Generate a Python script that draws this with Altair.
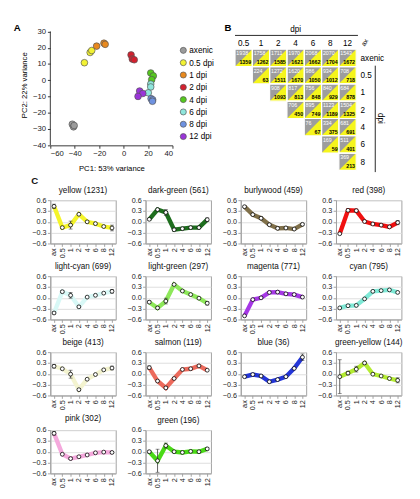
import altair as alt
import pandas as pd

FONT = "Liberation Sans"

# ---------------- Panel A: PCA ----------------
PCA_GROUPS = ["axenic", "0.5 dpi", "1 dpi", "2 dpi", "4 dpi", "6 dpi", "8 dpi", "12 dpi"]
PCA_COLORS = ["#9b9b9b", "#f2f233", "#e8891e", "#d3202e", "#55c81e", "#8fe6dc", "#6f92e0", "#9a35d8"]
pc1_axenic = [-42.0, -41.0, -40.5]
pc2_axenic = [-27.0, -28.6, -27.8]
pc1_05 = [-32.1, -27.4, -26.1]
pc2_05 = [10.8, 17.1, 18.3]
pc1_1 = [-22.1, -16.1, -15.1]
pc2_1 = [21.0, 22.8, 22.1]
pc1_2 = [6.1, 7.1, 8.7]
pc2_2 = [15.6, 13.1, 12.6]
pc1_4 = [22.2, 24.3, 23.0]
pc2_4 = [4.5, 2.7, 0.4]
pc1_6 = [22.2, 22.2, 20.2]
pc2_6 = [-2.3, -4.1, -7.7]
pc1_8 = [22.5, 23.8, 23.6]
pc2_8 = [-11.3, -12.0, -12.9]
pc1_12 = [13.1, 15.7, 11.8]
pc2_12 = [-6.6, -8.1, -9.9]
A_X_TICKS = [-60, -40, -20, 0, 20, 40]
A_Y_TICKS = [-40, -30, -20, -10, 0, 10, 20, 30]

pc1_all = [pc1_axenic, pc1_05, pc1_1, pc1_2, pc1_4, pc1_6, pc1_8, pc1_12]
pc2_all = [pc2_axenic, pc2_05, pc2_1, pc2_2, pc2_4, pc2_6, pc2_8, pc2_12]
rows = []
for g, xs, ys in zip(PCA_GROUPS, pc1_all, pc2_all):
    for a, b in zip(xs, ys):
        rows.append({"grp": g, "pc1": a, "pc2": b})
pca_df = pd.DataFrame(rows)

# ---------------- Panel B: DEG matrix ----------------
B_COLS = ["0.5", "1", "2", "4", "6", "8", "12"]
B_ROWS = ["axenic", "0.5", "1", "2", "4", "6", "8"]
B_GRAY = [
    [1938, 1758, 1711, 1970, 2068, 2070, 1543],
    [None, 224, 1272, 1620, 986, 934, 708],
    [None, None, 908, 817, 756, 840, 684],
    [None, None, None, 706, 895, 1123, 1504],
    [None, None, None, None, 76, 334, 681],
    [None, None, None, None, None, 169, 511],
    [None, None, None, None, None, None, 369],
]
B_YELLOW = [
    [1359, 1262, 1585, 1621, 1662, 1704, 1672],
    [None, 63, 1511, 1670, 1050, 1012, 718],
    [None, None, 1093, 813, 848, 929, 878],
    [None, None, None, 450, 749, 1189, 1325],
    [None, None, None, None, 67, 375, 691],
    [None, None, None, None, None, 59, 401],
    [None, None, None, None, None, None, 213],
]
cells = []
for ri in range(len(B_ROWS)):
    for ci in range(len(B_COLS)):
        if B_GRAY[ri][ci] is not None:
            cells.append({"cid": f"{ri}-{ci}", "ri": ri, "ci": ci,
                          "g": B_GRAY[ri][ci], "yv": B_YELLOW[ri][ci]})
cells_df = pd.DataFrame(cells)

# ---------------- Panel C: module profiles ----------------
TIMES = ["ax", "0.5", "1", "2", "4", "6", "8", "12"]
MODULES = ["yellow", "dark-green", "burlywood", "red", "light-cyan", "light-green", "magenta",
           "cyan", "beige", "salmon", "blue", "green-yellow", "pink", "green"]
COUNTS = [1231, 561, 459, 398, 699, 297, 771, 795, 413, 119, 36, 144, 302, 196]
MOD_COLORS = ["#f4f42a", "#1e6e1e", "#80704a", "#f01010", "#d8f8f6", "#8ee85a", "#a638e6",
              "#7fe9d6", "#f3f3cf", "#ec6a5c", "#2436d8", "#b4ec32", "#f4a8dc", "#4ada16"]
yellow = [0.43, -0.16, -0.09, 0.21, 0.00, -0.05, -0.13, -0.17]
yellow_err = [0.06, 0, 0.11, 0, 0, 0, 0, 0.08]
dark_green = [0.07, 0.34, 0.26, -0.22, -0.19, -0.16, -0.16, 0.06]
dark_green_err = [0.02, 0, 0.08, 0.02, 0, 0, 0, 0.05]
burlywood = [0.42, 0.20, 0.10, -0.08, -0.18, -0.17, -0.20, -0.07]
burlywood_err = [0.02, 0, 0.04, 0, 0, 0, 0, 0.02]
red = [-0.33, 0.32, 0.31, 0.01, -0.06, -0.09, -0.14, -0.02]
red_err = [0.02, 0.03, 0.04, 0, 0, 0, 0, 0.06]
light_cyan = [-0.42, 0.17, 0.07, -0.25, 0.02, 0.07, 0.13, 0.18]
light_cyan_err = [0.03, 0.03, 0.08, 0.02, 0, 0, 0, 0.05]
light_green = [-0.12, -0.28, -0.09, 0.37, 0.19, 0.09, -0.01, -0.15]
light_green_err = [0.04, 0.03, 0.08, 0, 0, 0, 0, 0.05]
magenta = [-0.50, -0.05, 0.00, 0.15, 0.16, 0.11, 0.09, 0.02]
magenta_err = [0, 0, 0, 0, 0, 0, 0, 0]
cyan = [-0.28, -0.22, -0.21, -0.03, 0.18, 0.20, 0.22, 0.15]
cyan_err = [0, 0, 0, 0, 0, 0, 0, 0]
beige = [0.21, 0.14, -0.01, -0.44, -0.15, -0.02, 0.11, 0.16]
beige_err = [0.05, 0, 0.11, 0.03, 0, 0, 0, 0.05]
salmon = [0.17, -0.20, -0.39, -0.13, 0.12, 0.14, 0.22, 0.10]
salmon_err = [0.05, 0, 0.03, 0, 0, 0, 0, 0]
blue = [-0.08, -0.02, -0.06, -0.22, -0.16, -0.08, 0.15, 0.46]
blue_err = [0.02, 0, 0.04, 0, 0, 0, 0, 0.09]
green_yellow = [-0.08, 0.02, 0.13, 0.30, -0.01, -0.06, -0.13, -0.18]
green_yellow_err = [0.47, 0.05, 0.08, 0.03, 0, 0, 0, 0.07]
pink = [0.51, -0.07, -0.19, -0.14, -0.09, -0.03, -0.01, -0.02]
pink_err = [0.05, 0, 0.03, 0, 0, 0, 0, 0.03]
green = [0.00, -0.25, 0.17, 0.00, -0.02, 0.01, 0.00, 0.08]
green_err = [0.04, 0.32, 0.07, 0.02, 0, 0, 0.03, 0.03]
C_Y_TICKS = [-0.6, -0.3, 0.0, 0.3, 0.6]

MOD_VALUES = [yellow, dark_green, burlywood, red, light_cyan, light_green, magenta,
              cyan, beige, salmon, blue, green_yellow, pink, green]
MOD_ERRS = [yellow_err, dark_green_err, burlywood_err, red_err, light_cyan_err, light_green_err,
            magenta_err, cyan_err, beige_err, salmon_err, blue_err, green_yellow_err, pink_err, green_err]

prof_rows = []
for m, vals, errs in zip(MODULES, MOD_VALUES, MOD_ERRS):
    for t, v, e in zip(TIMES, vals, errs):
        lo = v - e if e > 0 else None
        hi = v + e if e > 0 else None
        prof_rows.append({"module": m, "t": t, "v": v, "lo": lo, "hi": hi})
prof_df = pd.DataFrame(prof_rows)

AX_COL = "#333333"

# ---------- build A ----------
a_xscale = alt.Scale(domain=[-60, 40], nice=False, zero=False)
a_yscale = alt.Scale(domain=[-40, 34.5], nice=False, zero=False)
a_xaxis = alt.Axis(values=A_X_TICKS, title="PC1: 53% variance", grid=False, domainColor=AX_COL,
                   tickColor=AX_COL, tickSize=3, labelFontSize=8, titleFontSize=8,
                   titleFontWeight="normal", titlePadding=7, labelColor="#222")
a_yaxis = alt.Axis(values=A_Y_TICKS, title="PC2: 22% variance", grid=False, domain=False,
                   tickColor=AX_COL, tickSize=3, labelFontSize=8, titleFontSize=8,
                   titleFontWeight="normal", titlePadding=4, labelColor="#222")

a_pts = alt.Chart(pca_df).mark_point(filled=True, size=48, stroke="#555", strokeWidth=0.7,
                                     opacity=1).encode(
    x=alt.X("pc1:Q", scale=a_xscale, axis=a_xaxis),
    y=alt.Y("pc2:Q", scale=a_yscale, axis=a_yaxis),
    color=alt.Color("grp:N", scale=alt.Scale(domain=PCA_GROUPS, range=PCA_COLORS),
                    legend=alt.Legend(title=None, orient="none", legendX=134, legendY=23,
                                      symbolType="circle", symbolSize=40,
                                      symbolStrokeColor="#555", symbolStrokeWidth=0.7,
                                      labelFontSize=8.5, rowPadding=2.8, labelOffset=2,
                                      padding=0)),
)
# left axis line, from the lowest to the highest tick (through the y scale)
a_line = alt.Chart(pd.DataFrame({"lo": [min(A_Y_TICKS)], "hi": [max(A_Y_TICKS)]})).mark_rule(
    color=AX_COL, strokeWidth=1).encode(
    x=alt.value(0), y=alt.Y("lo:Q", scale=a_yscale, axis=a_yaxis), y2="hi:Q")
a_letter = alt.Chart(pd.DataFrame({"k": [0]})).mark_text(
    text="A", fontSize=10, fontWeight="bold", align="left", baseline="middle").encode(
    x=alt.value(-38), y=alt.value(4))
chartA = alt.layer(a_pts, a_line, a_letter).properties(width=127, height=126)

# ---------- build B ----------
bxs = alt.Scale(domain=[0, 7], nice=False, zero=False)
bys = alt.Scale(domain=[-1.45, 7], nice=False, zero=False, reverse=True)


def bX(f):
    return alt.X(f, scale=bxs, axis=None)


def bY(f, **kw):
    return alt.Y(f, scale=bys, axis=None, **kw)


GRAY_B = "#9d9d9d"
YEL_B = "#f5f51c"
cbase = alt.Chart(cells_df).transform_calculate(
    x0="datum.ci", x1="datum.ci + 1", y0="datum.ri", y1="datum.ri + 1",
    xc="datum.ci + 0.5", yc="datum.ri + 0.5")
b_rect = cbase.mark_rect(fill=GRAY_B, strokeWidth=0).encode(
    x=bX("x0:Q"), x2="x1:Q", y=bY("y0:Q"), y2="y1:Q")
b_tri = alt.Chart(cells_df).transform_calculate(
    xs="[datum.ci, datum.ci + 1]", ys="[datum.ri + 1, datum.ri]", yb="datum.ri + 1"
).transform_flatten(["xs", "ys"]).mark_area(color=YEL_B, orient="vertical", opacity=1).encode(
    x=bX("xs:Q"), y=bY("ys:Q", stack=False), y2="yb:Q", detail="cid:N")
b_grid = cbase.mark_rect(fillOpacity=0, stroke="white", strokeWidth=1.2).encode(
    x=bX("x0:Q"), x2="x1:Q", y=bY("y0:Q"), y2="y1:Q")
b_gtxt = cbase.mark_text(fontSize=5.5, color="white", align="left", baseline="middle",
                         dx=-7.6, dy=-4.6).encode(x=bX("xc:Q"), y=bY("yc:Q"), text="g:Q")
b_ytxt = cbase.mark_text(fontSize=5.5, color="black", fontWeight="bold", align="right",
                         baseline="middle", dx=7.8, dy=4.8).encode(x=bX("xc:Q"), y=bY("yc:Q"),
                                                                   text="yv:Q")
cols_df = pd.DataFrame({"lab": B_COLS, "ci": list(range(len(B_COLS)))})
rows_df = pd.DataFrame({"lab": B_ROWS, "ri": list(range(len(B_ROWS)))})
b_collab = alt.Chart(cols_df).transform_calculate(xc="datum.ci + 0.5", yc="-0.36").mark_text(
    fontSize=8.5, baseline="middle").encode(x=bX("xc:Q"), y=bY("yc:Q"), text="lab:N")
b_rowlab = alt.Chart(rows_df).transform_calculate(xc="7.25", yc="datum.ri + 0.5").mark_text(
    fontSize=8.5, baseline="middle", align="left").encode(x=bX("xc:Q"), y=bY("yc:Q"),
                                                          text="lab:N")
one = pd.DataFrame({"k": [0]})
b_dpi_top = alt.Chart(one).transform_calculate(xc="3.5", yc="-1.15").mark_text(
    text="dpi", fontSize=8.5, baseline="middle").encode(x=bX("xc:Q"), y=bY("yc:Q"))
b_rule_top = alt.Chart(one).transform_calculate(x0="0", x1="7.1", yc="-0.8").mark_rule(
    color="#222", strokeWidth=1).encode(x=bX("x0:Q"), x2="x1:Q", y=bY("yc:Q"))
b_rule_side = alt.Chart(one).transform_calculate(xc="8.1", y0="0.95", y1="7.1").mark_rule(
    color="#222", strokeWidth=1).encode(x=bX("xc:Q"), y=bY("y0:Q"), y2="y1:Q")
b_dpi_side = alt.Chart(one).transform_calculate(xc="8.45", yc="4.0").mark_text(
    text="dpi", fontSize=8.5, angle=90, baseline="middle").encode(x=bX("xc:Q"), y=bY("yc:Q"))
b_ax = alt.Chart(one).transform_calculate(xc="7.5", yc="-0.38").mark_text(
    text="ax", fontSize=7, angle=300, baseline="middle").encode(x=bX("xc:Q"), y=bY("yc:Q"))
b_letter = alt.Chart(one).transform_calculate(xc="-0.2", yc="-1.2").mark_text(
    text="B", fontSize=10, fontWeight="bold", align="right", baseline="middle").encode(
    x=bX("xc:Q"), y=bY("yc:Q"))
chartB = alt.layer(b_rect, b_tri, b_grid, b_gtxt, b_ytxt, b_collab, b_rowlab, b_dpi_top,
                   b_rule_top, b_rule_side, b_dpi_side, b_ax, b_letter).properties(
    width=126, height=round(8.45 * 18))

# ---------- build C ----------
FRAME = "#a0a0a0"
c_yscale = alt.Scale(domain=[-0.6, 0.6], nice=False, zero=False)
c_xscale = alt.Scale(type="point", domain=TIMES, padding=0.45)
c_xaxis = alt.Axis(title=None, labelAngle=270, labelFontSize=7.5, tickSize=3,
                   domainColor=FRAME, tickColor=FRAME, labelPadding=1.5, labelColor="#222")
c_yaxis = alt.Axis(title=None, values=C_Y_TICKS, format=".1f", labelFontSize=7.5, tickSize=3,
                   domainColor=FRAME, tickColor=FRAME, labelPadding=1.5, labelColor="#222")

panels = []
for m, n, col in zip(MODULES, COUNTS, MOD_COLORS):
    base = alt.Chart(prof_df).transform_filter(alt.datum.module == m).encode(
        x=alt.X("t:O", sort=TIMES, scale=c_xscale, axis=c_xaxis))
    line = base.mark_line(color=col, strokeWidth=4.5).encode(
        y=alt.Y("v:Q", scale=c_yscale, axis=c_yaxis))
    err = base.mark_rule(color="#333", strokeWidth=0.8).encode(
        y=alt.Y("lo:Q", scale=c_yscale, axis=c_yaxis), y2="hi:Q")
    cap_lo = base.mark_tick(color="#333", size=4, thickness=0.8).encode(
        y=alt.Y("lo:Q", scale=c_yscale, axis=c_yaxis))
    cap_hi = base.mark_tick(color="#333", size=4, thickness=0.8).encode(
        y=alt.Y("hi:Q", scale=c_yscale, axis=c_yaxis))
    pts = base.mark_point(filled=True, fill="white", stroke="black", strokeWidth=0.8, size=16,
                          opacity=1).encode(y=alt.Y("v:Q", scale=c_yscale, axis=c_yaxis))
    p = alt.layer(line, err, cap_lo, cap_hi, pts).properties(
        width=68, height=45,
        title=alt.TitleParams(f"{m} ({n})", fontSize=8.5, fontWeight="normal", offset=2),
        view=alt.ViewBackground(stroke=FRAME))
    panels.append(p)

row_charts = [alt.hconcat(*panels[i:i + 4], spacing=5) for i in range(0, len(panels), 4)]
gridC = alt.vconcat(*row_charts, spacing=3,
                    title=alt.TitleParams("C", anchor="start", fontSize=10, fontWeight="bold",
                                          offset=0))

top = alt.hconcat(chartA, chartB, spacing=52)
chart = alt.vconcat(top, gridC, spacing=3).configure(font=FONT).configure_view(
    stroke="transparent").configure_axis(labelFont=FONT, titleFont=FONT).configure_title(
    font=FONT, color="#111").configure_text(font=FONT).configure_legend(labelFont=FONT)

chart.save("out.html", embed_options={"renderer": "svg", "actions": False})
